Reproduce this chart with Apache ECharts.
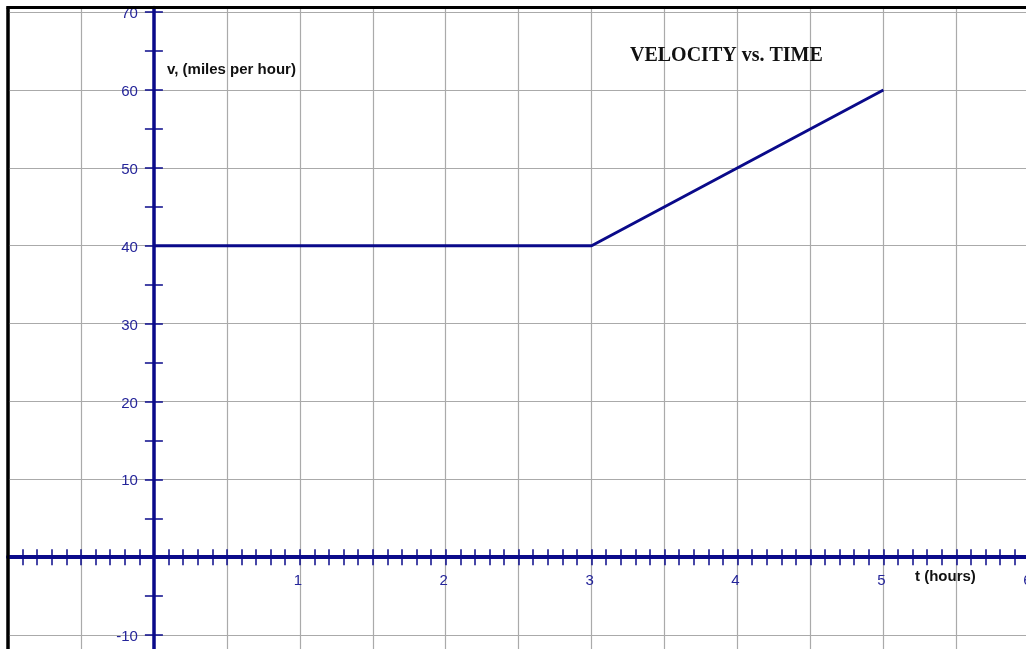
<!DOCTYPE html>
<html><head><meta charset="utf-8">
<script src="https://cdn.jsdelivr.net/npm/echarts@6/dist/echarts.min.js"></script>
<style>html,body{margin:0;padding:0;background:#fff}#c{width:1026px;height:649px}</style>
</head><body><div id="c"></div>
<script>
// Data
const timeHours = [0, 3, 5];
const velocityMph = [40, 40, 60];
const xTickLabels = ['1', '2', '3', '4', '5', '6'];
const yTickLabels = ['-10', '10', '20', '30', '40', '50', '60', '70'];
const chartTitle = 'VELOCITY vs. TIME';
const yName = 'v, (miles per hour)';
const xName = 't (hours)';

const NAVY = '#0a0a8a';
const LABEL = '#25259a';
const X_MIN = -1, X_MAX = 6, Y_MIN = -20, Y_MAX = 70.6;
const SANS = '"Liberation Sans", Arial, sans-serif';

const chart = echarts.init(document.getElementById('c'), null, { renderer: 'canvas' });

const hiddenLine = { show: true, onZero: true, onZeroAxisIndex: 0, lineStyle: { color: 'rgba(0,0,0,0)', width: 1 } };

function xAxisBase(extra) {
  return Object.assign({
    type: 'value', min: X_MIN, max: X_MAX, position: 'bottom',
    axisLine: hiddenLine,
    axisTick: { show: false }, axisLabel: { show: false }, splitLine: { show: false }
  }, extra);
}
function yAxisBase(extra) {
  return Object.assign({
    type: 'value', min: Y_MIN, max: Y_MAX, position: 'left',
    axisLine: hiddenLine,
    axisTick: { show: false }, axisLabel: { show: false }, splitLine: { show: false }
  }, extra);
}

const option = {
  animation: false,
  backgroundColor: '#fff',
  grid: {
    left: 8, top: 7.5, width: 1021.3, height: 705.4,
    show: true, borderColor: '#000', borderWidth: 3, backgroundColor: '#fff',
    containLabel: false, outerBoundsMode: 'none'
  },
  xAxis: [
    xAxisBase({ interval: 0.5, splitLine: { show: true, showMinLine: false, lineStyle: { color: '#aaaaaa', width: 1.2 } } }),
    xAxisBase({ interval: 0.1,
      axisLine: { show: true, onZero: true, onZeroAxisIndex: 0, lineStyle: { color: NAVY, width: 4 } },
      axisTick: { show: true, inside: true, length: 8, lineStyle: { color: NAVY, width: 1.5 } } }),
    xAxisBase({ interval: 0.1,
      axisTick: { show: true, inside: false, length: 8, lineStyle: { color: NAVY, width: 1.5 } } })
  ],
  yAxis: [
    yAxisBase({ interval: 10, splitLine: { show: true, showMaxLine: false, lineStyle: { color: '#aaaaaa', width: 1.2 } } }),
    yAxisBase({ interval: 5,
      axisLine: { show: true, onZero: true, onZeroAxisIndex: 0, lineStyle: { color: NAVY, width: 3.5 } },
      axisTick: { show: true, inside: true, length: 9, lineStyle: { color: NAVY, width: 1.5 } } }),
    yAxisBase({ interval: 5,
      axisTick: { show: true, inside: false, length: 9, lineStyle: { color: NAVY, width: 1.5 } } })
  ],
  series: [{
    type: 'line', xAxisIndex: 0, yAxisIndex: 0,
    data: timeHours.map((t, i) => [t, velocityMph[i]]),
    symbol: 'none', lineStyle: { color: NAVY, width: 3 }, z: 5
  }]
};
chart.setOption(option);

// Tick labels placed from the chart's own scales
const toPx = (x, y) => chart.convertToPixel({ xAxisIndex: 0, yAxisIndex: 0 }, [x, y]);
const graphics = [];
xTickLabels.forEach(lbl => {
  const p = toPx(Number(lbl), 0);
  graphics.push({ type: 'text', x: p[0] - 2, y: p[1] + 24, z: 10,
    style: { text: lbl, fill: LABEL, font: '15px ' + SANS, textAlign: 'center', textVerticalAlign: 'middle' } });
});
yTickLabels.forEach(lbl => {
  const p = toPx(0, Number(lbl));
  graphics.push({ type: 'text', x: p[0] - 16, y: p[1] + 2, z: 10,
    style: { text: lbl, fill: LABEL, font: '15px ' + SANS, textAlign: 'right', textVerticalAlign: 'middle' } });
});
// Frame edges (left and top) drawn on top
const tl = toPx(X_MIN, Y_MAX);
graphics.push(
  { type: 'line', z: 20, shape: { x1: tl[0], y1: tl[1], x2: tl[0], y2: 649 }, style: { stroke: '#000', lineWidth: 3 } },
  { type: 'line', z: 20, shape: { x1: tl[0] - 1.5, y1: tl[1], x2: 1026, y2: tl[1] }, style: { stroke: '#000', lineWidth: 3 } }
);
graphics.push(
  { type: 'text', x: 630, y: 56, z: 10, style: { text: chartTitle, fill: '#111', font: 'bold 20px "Liberation Serif", "Times New Roman", serif', textVerticalAlign: 'middle' } },
  { type: 'text', x: 167, y: 70, z: 10, style: { text: yName, fill: '#111', font: 'bold 15px ' + SANS, textVerticalAlign: 'middle' } },
  { type: 'text', x: 915, y: 577, z: 10, style: { text: xName, fill: '#111', font: 'bold 15px ' + SANS, textVerticalAlign: 'middle' } }
);
chart.setOption({ graphic: graphics });
</script></body></html>
